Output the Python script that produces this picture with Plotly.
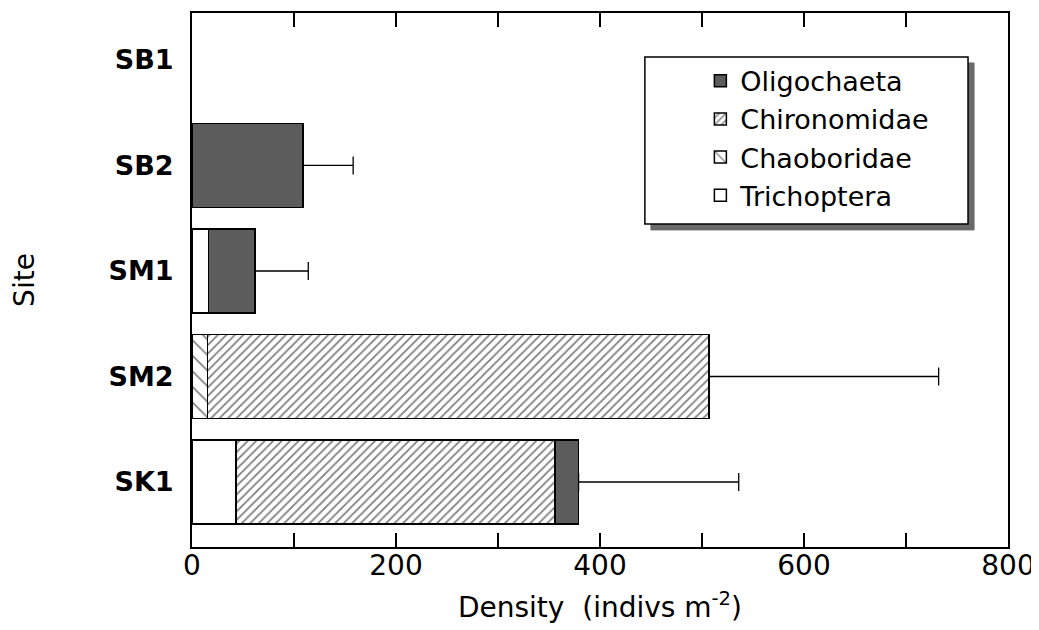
import plotly.graph_objects as go

# ---- data ----
sites = ["SB1", "SB2", "SM1", "SM2", "SK1"]
trichoptera = [0, 0, 16, 0, 43]
chaoboridae = [0, 0, 0, 15, 0]
chironomidae = [0, 0, 0, 492, 313]
oligochaeta = [0, 109, 46, 0, 23]
err_plus = [0, 49, 52, 225, 157]

x_tick_vals = [0, 200, 400, 600, 800]

FONT = "DejaVu Sans"


def nz(vals):
    return [v if v else None for v in vals]


fig = go.Figure()

fig.add_trace(go.Bar(
    name="Trichoptera", y=sites, x=nz(trichoptera), legendrank=4,
    marker=dict(color="white", line=dict(color="black", width=1.5)),
    orientation="h", width=0.8))
fig.add_trace(go.Bar(
    name="Chaoboridae", y=sites, x=nz(chaoboridae), legendrank=3,
    marker=dict(color="white", line=dict(color="black", width=1.5),
                pattern=dict(shape="\\", fgcolor="black", bgcolor="white",
                             size=11, solidity=0.15, fillmode="overlay")),
    orientation="h", width=0.8))
fig.add_trace(go.Bar(
    name="Chironomidae", y=sites, x=nz(chironomidae), legendrank=2,
    marker=dict(color="white", line=dict(color="black", width=1.5),
                pattern=dict(shape="/", fgcolor="black", bgcolor="white",
                             size=6, solidity=0.3, fillmode="overlay")),
    orientation="h", width=0.8))
fig.add_trace(go.Bar(
    name="Oligochaeta", y=sites, x=nz(oligochaeta), legendrank=1,
    marker=dict(color="#5c5c5c", line=dict(color="black", width=1.5)),
    orientation="h", width=0.8))

# error bars at the end of each stacked bar (plus direction only)
totals = [a + b + c + d for a, b, c, d in zip(trichoptera, chaoboridae, chironomidae, oligochaeta)]
ex_sites = [s for s, e in zip(sites, err_plus) if e]
ex_tot = [t for t, e in zip(totals, err_plus) if e]
ex_err = [e for e in err_plus if e]
fig.add_trace(go.Scatter(
    x=ex_tot, y=ex_sites, mode="markers",
    marker=dict(size=1, color="rgba(0,0,0,0)"),
    error_x=dict(type="data", array=ex_err, arrayminus=[0] * len(ex_err),
                 symmetric=False, color="black", thickness=1.3, width=9),
    showlegend=False, hoverinfo="skip"))

# legend frame with drop shadow
lx0, lx1, ly0, ly1 = 0.555, 0.951, 0.605, 0.9176
dx, dy = 0.0074, 0.0112
fig.add_shape(type="rect", xref="paper", yref="paper",
              x0=lx0 + dx, x1=lx1 + dx, y0=ly0 - dy, y1=ly1 - dy,
              fillcolor="#6a6a6a", line=dict(color="#6a6a6a", width=1), layer="above")
fig.add_shape(type="rect", xref="paper", yref="paper",
              x0=lx0, x1=lx1, y0=ly0, y1=ly1,
              fillcolor="white", line=dict(color="black", width=1.5), layer="above")

# the page body adds an 8px offset, so the figure is 8px smaller than the window
fig.update_layout(
    barmode="stack",
    width=1031, height=622,
    margin=dict(l=184, r=31, t=5, b=83, autoexpand=False),
    paper_bgcolor="white", plot_bgcolor="white",
    font=dict(family=FONT, size=28, color="black"),
    showlegend=True,
    legend=dict(
        x=0.623, y=0.918, xanchor="left", yanchor="top",
        bgcolor="rgba(0,0,0,0)", borderwidth=0,
        traceorder="normal", tracegroupgap=0,
        font=dict(family=FONT, size=27, color="black"),
    ),
    xaxis=dict(
        range=[0, 800], tickmode="array", tickvals=x_tick_vals,
        ticks="inside", ticklen=14, tickwidth=1.5, tickcolor="black",
        minor=dict(dtick=100, ticks="inside", ticklen=14, tickwidth=1.5, tickcolor="black"),
        showline=True, linecolor="black", linewidth=2, mirror="ticks",
        showgrid=False, zeroline=False, automargin=False,
        tickfont=dict(family=FONT, size=28),
        ticklabelstandoff=-8,
        title=dict(text="Density&nbsp;&nbsp;(indivs m<sup>-2</sup>)",
                   font=dict(family=FONT, size=28), standoff=17),
    ),
    yaxis=dict(
        type="category", categoryorder="array", categoryarray=sites,
        range=[4.616, -0.445],
        tickmode="array", tickvals=sites, ticktext=["<b>%s</b>" % s for s in sites],
        ticks="", showline=True, linecolor="black", linewidth=2, mirror=True,
        showgrid=False, zeroline=False, automargin=False,
        tickfont=dict(family=FONT, size=27),
        ticklabelstandoff=11,
        title=dict(text="Site", font=dict(family=FONT, size=28), standoff=67),
    ),
)

fig.write_html("out.html")
